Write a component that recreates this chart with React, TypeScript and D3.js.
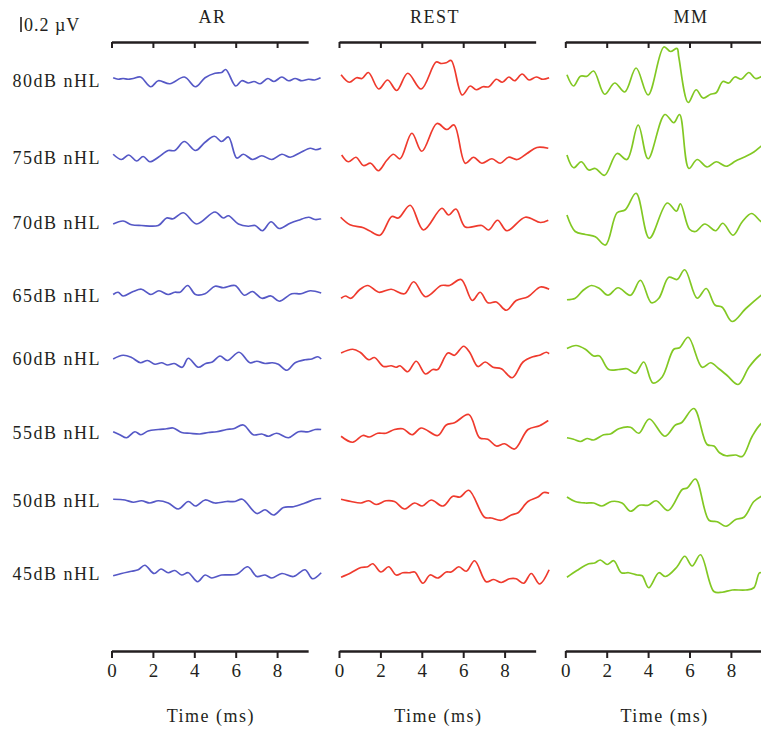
import React, { useEffect, useRef } from "react";
import * as d3 from "d3";

// stacked evoked-response traces, time in ms, amplitude in µV
const conditions = ["AR", "REST", "MM"];
const levels = ["80dB nHL", "75dB nHL", "70dB nHL", "65dB nHL", "60dB nHL", "55dB nHL", "50dB nHL", "45dB nHL"];
const levelOffsets = [0, 1.03, 1.89, 2.87, 3.71, 4.69, 5.6, 6.57]; // µV shift of each stacked trace
const timeTicks = [0, 2, 4, 6, 8];
const scaleBarValue = 0.2; // µV

type Pt = [number, number];

const arTraces: Pt[][] = [
  [[0.08, 0.03], [0.32, 0.01], [0.56, 0.02], [0.8, 0.01], [1.05, 0.02], [1.4, 0.04], [1.9, -0.09], [2.26, -0.01], [2.82, -0.05], [3.52, 0.04], [4.06, -0.09], [4.52, 0.03], [5.0, 0.09], [5.32, 0.1], [5.52, 0.14], [6.0, -0.08], [6.29, -0.01], [6.61, -0.04], [6.89, -0.02], [7.18, -0.05], [7.55, 0.02], [7.85, -0.02], [8.23, 0.04], [8.55, -0.01], [8.87, 0.02], [9.19, -0.01], [9.52, 0.01], [9.81, 0], [10.1, 0.03]],
  [[0.08, 0.04], [0.48, -0.03], [0.84, 0.03], [1.21, -0.05], [1.53, 0.01], [1.85, -0.06], [2.26, 0.0], [2.74, 0.09], [3.06, 0.09], [3.52, 0.21], [4.06, 0.09], [4.52, 0.2], [4.97, 0.28], [5.32, 0.21], [5.65, 0.27], [6.05, -0.01], [6.37, 0.04], [6.81, -0.03], [7.26, 0.02], [7.74, -0.03], [8.23, 0.04], [8.63, 0.0], [9.11, 0.06], [9.6, 0.12], [9.87, 0.1], [10.13, 0.12]],
  [[0.08, -0.03], [0.56, 0.01], [0.97, -0.04], [1.45, -0.05], [2.26, -0.05], [2.66, 0.05], [2.98, 0.04], [3.47, 0.12], [4.11, -0.03], [5.0, 0.13], [5.4, 0.05], [5.65, 0.08], [6.13, -0.03], [6.61, -0.06], [6.94, -0.05], [7.29, -0.12], [7.71, 0.0], [8.1, -0.09], [8.63, -0.02], [9.03, 0.02], [9.52, 0.06], [9.84, 0.03], [10.13, 0.04]],
  [[0.08, 0.01], [0.32, 0.04], [0.56, -0.01], [1.05, 0.05], [1.45, 0.08], [1.9, 0.01], [2.29, 0.06], [2.74, 0.01], [3.06, 0.04], [3.31, 0.04], [3.68, 0.13], [4.06, 0.01], [4.52, 0.02], [5.0, 0.12], [5.4, 0.1], [5.97, 0.13], [6.42, 0.0], [6.81, 0.05], [7.26, -0.04], [7.71, -0.01], [8.11, -0.08], [8.71, 0.02], [9.16, 0.02], [9.6, 0.06], [10.13, 0.03]],
  [[0.08, -0.01], [0.56, 0.04], [0.97, 0.01], [1.4, -0.06], [1.74, -0.03], [2.1, -0.08], [2.42, -0.06], [2.71, -0.09], [3.03, -0.07], [3.42, -0.12], [3.71, 0.0], [4.19, -0.12], [4.55, -0.07], [4.87, -0.05], [5.24, 0.03], [5.6, -0.03], [6.16, 0.08], [6.69, -0.06], [7.02, -0.04], [7.42, -0.07], [7.77, -0.06], [8.06, -0.08], [8.47, -0.16], [8.87, -0.06], [9.35, -0.02], [9.68, -0.01], [9.97, 0.02], [10.13, -0.01]],
  [[0.08, 0.0], [0.4, -0.04], [0.73, -0.08], [1.13, 0.0], [1.42, -0.04], [1.77, 0.01], [2.26, 0.03], [2.66, 0.04], [2.98, 0.05], [3.39, -0.01], [3.79, -0.02], [4.27, -0.03], [4.68, -0.01], [5.08, 0.0], [5.56, 0.03], [5.89, 0.04], [6.37, 0.09], [6.85, -0.04], [7.26, -0.03], [7.58, -0.06], [7.98, -0.02], [8.55, -0.08], [9.03, 0.0], [9.52, 0.0], [9.84, 0.03], [10.13, 0.03]],
  [[0.08, 0.01], [0.65, 0.0], [1.05, -0.03], [1.45, -0.01], [1.85, -0.04], [2.26, -0.01], [2.74, -0.04], [3.23, -0.12], [3.71, -0.02], [4.06, -0.08], [4.52, 0.0], [5.0, -0.04], [5.56, -0.02], [5.97, -0.02], [6.32, 0.01], [7.02, -0.18], [7.42, -0.13], [7.82, -0.2], [8.31, -0.1], [8.79, -0.09], [9.35, -0.04], [9.84, 0.01], [10.13, 0.02]],
  [[0.08, -0.04], [0.48, -0.01], [0.97, 0.02], [1.29, 0.04], [1.61, 0.1], [2.06, -0.01], [2.39, 0.05], [2.74, 0.0], [3.06, 0.03], [3.39, -0.03], [3.71, 0.0], [4.16, -0.12], [4.52, -0.03], [4.84, -0.07], [5.32, -0.03], [6.05, -0.02], [6.58, 0.08], [7.02, -0.05], [7.42, -0.03], [7.74, -0.07], [8.23, -0.01], [8.79, -0.05], [9.35, 0.04], [9.71, -0.08], [10.13, 0.0]],
];

const restTraces: Pt[][] = [
  [[0.1, 0.07], [0.5, -0.03], [0.85, 0.03], [1.11, 0.02], [1.42, 0.1], [1.92, -0.12], [2.35, 0.0], [2.79, -0.14], [3.32, 0.09], [3.97, -0.12], [4.69, 0.24], [4.94, 0.22], [5.18, 0.23], [5.42, 0.26], [5.95, -0.2], [6.34, -0.08], [6.63, -0.13], [6.95, -0.09], [7.24, -0.09], [7.6, 0.01], [7.89, -0.03], [8.21, 0.04], [8.48, -0.01], [8.85, 0.08], [9.18, 0.0], [9.53, 0.04], [9.85, 0.01], [10.15, 0.03]],
  [[0.13, 0.03], [0.45, -0.06], [0.82, 0.0], [1.18, -0.11], [1.53, -0.08], [1.9, -0.18], [2.31, -0.04], [2.63, 0.04], [2.95, -0.02], [3.52, 0.32], [4.0, 0.08], [4.73, 0.45], [5.21, 0.37], [5.56, 0.43], [6.1, -0.08], [6.5, 0.0], [6.9, -0.08], [7.39, -0.02], [7.79, -0.08], [8.19, 0.0], [8.6, -0.03], [9.08, 0.05], [9.56, 0.13], [10.11, 0.12]],
  [[0.08, 0.06], [0.53, -0.04], [1.18, -0.08], [1.47, -0.12], [1.98, -0.18], [2.55, 0.07], [2.87, 0.05], [3.44, 0.22], [4.08, -0.11], [4.97, 0.18], [5.29, 0.09], [5.65, 0.17], [6.1, -0.07], [6.9, -0.05], [7.23, -0.11], [7.66, 0.02], [8.11, -0.12], [9.0, 0.06], [9.73, -0.01], [10.11, 0.02]],
  [[0.1, -0.04], [0.31, -0.01], [0.58, -0.04], [0.98, 0.07], [1.39, 0.13], [1.92, 0.04], [2.52, 0.08], [3.16, 0.02], [3.61, 0.18], [4.18, -0.02], [4.94, 0.13], [5.34, 0.13], [5.9, 0.21], [6.44, -0.07], [6.82, 0.04], [7.19, -0.1], [7.6, -0.09], [8.08, -0.2], [8.56, -0.07], [9.13, -0.02], [9.73, 0.11], [10.15, 0.08]],
  [[0.1, 0.07], [0.66, 0.12], [1.02, 0.08], [1.44, -0.02], [1.71, 0.01], [2.15, -0.11], [2.52, -0.1], [2.76, -0.12], [2.95, -0.1], [3.32, -0.18], [3.73, -0.04], [4.18, -0.21], [4.53, -0.15], [4.77, -0.15], [5.26, 0.07], [5.58, 0.04], [6.02, 0.16], [6.31, 0.08], [6.71, -0.11], [7.06, -0.05], [7.44, -0.12], [7.84, -0.14], [8.37, -0.26], [8.89, -0.05], [9.37, 0.02], [9.69, 0.04], [10.02, 0.08], [10.15, 0.06]],
  [[0.1, -0.06], [0.66, -0.14], [1.15, -0.05], [1.47, -0.07], [1.87, -0.02], [2.27, -0.02], [2.68, 0.03], [3.08, 0.04], [3.53, -0.04], [3.97, 0.05], [4.77, -0.05], [5.18, 0.09], [5.58, 0.12], [6.27, 0.23], [6.79, -0.08], [7.19, -0.1], [7.6, -0.19], [8.0, -0.16], [8.48, -0.23], [9.13, 0.03], [9.69, 0.08], [10.11, 0.15]],
  [[0.1, 0.01], [0.58, -0.02], [1.06, -0.04], [1.44, -0.01], [1.79, -0.06], [2.27, -0.01], [2.68, -0.02], [3.16, -0.12], [3.65, -0.04], [4.02, -0.08], [4.45, 0.0], [5.02, -0.08], [5.5, 0.05], [5.85, 0.04], [6.27, 0.13], [7.03, -0.23], [7.35, -0.24], [7.84, -0.27], [8.32, -0.2], [8.65, -0.17], [9.13, -0.02], [9.61, 0.04], [9.89, 0.1], [10.15, 0.09]],
  [[0.1, -0.06], [0.58, 0.0], [1.06, 0.07], [1.39, 0.08], [1.63, 0.12], [2.03, 0.01], [2.4, 0.08], [2.76, -0.03], [3.08, 0.0], [3.4, 0.0], [3.66, 0.01], [4.05, -0.14], [4.4, -0.03], [4.77, -0.07], [5.18, 0.01], [5.42, 0.01], [5.79, 0.08], [6.15, 0.02], [6.55, 0.16], [7.11, -0.12], [7.47, -0.09], [7.84, -0.13], [8.24, -0.08], [8.56, -0.08], [8.92, -0.14], [9.29, -0.01], [9.69, -0.15], [10.15, 0.04]],
];

const mmTraces: Pt[][] = [
  [[0.08, 0.07], [0.4, -0.08], [0.73, 0.05], [1.05, 0.05], [1.37, 0.12], [1.9, -0.19], [2.39, -0.04], [2.87, -0.16], [3.42, 0.16], [4.0, -0.2], [4.76, 0.44], [5.08, 0.38], [5.4, 0.42], [5.48, 0.31], [5.94, -0.3], [6.32, -0.13], [6.65, -0.24], [7.02, -0.19], [7.29, -0.17], [7.61, -0.02], [7.9, -0.04], [8.19, 0.04], [8.5, 0.01], [8.87, 0.1], [9.19, 0.02], [9.52, 0.05], [10.0, 0.07]],
  [[0.08, 0.03], [0.4, -0.14], [0.77, -0.06], [1.13, -0.17], [1.45, -0.15], [1.9, -0.24], [2.5, 0.05], [2.98, -0.03], [3.52, 0.43], [4.0, -0.02], [4.81, 0.57], [5.24, 0.46], [5.52, 0.57], [5.97, -0.15], [6.37, -0.03], [6.85, -0.13], [7.29, -0.06], [7.77, -0.12], [8.23, -0.05], [8.63, 0.0], [9.11, 0.07], [9.52, 0.16], [10.0, 0.23]],
  [[0.08, 0.09], [0.48, -0.13], [0.97, -0.17], [1.45, -0.2], [1.94, -0.31], [2.5, 0.12], [2.9, 0.16], [3.42, 0.38], [4.06, -0.22], [4.92, 0.25], [5.37, 0.14], [5.56, 0.24], [6.0, -0.1], [6.29, -0.13], [6.74, -0.03], [7.26, -0.12], [7.61, -0.02], [8.1, -0.18], [8.55, 0.0], [9.0, 0.11], [9.47, 0.0], [10.0, -0.06]],
  [[0.08, -0.06], [0.48, -0.04], [0.84, 0.06], [1.26, 0.13], [1.65, 0.09], [2.06, 0.0], [2.55, 0.1], [3.15, 0.0], [3.63, 0.2], [4.16, -0.1], [4.52, -0.04], [5.0, 0.24], [5.4, 0.21], [5.77, 0.34], [6.37, -0.04], [6.81, 0.09], [7.23, -0.13], [7.58, -0.16], [8.06, -0.35], [8.71, -0.18], [9.47, 0.0], [10.0, 0.11]],
  [[0.08, 0.13], [0.52, 0.17], [0.97, 0.12], [1.37, 0.03], [1.65, 0.03], [2.1, -0.15], [2.58, -0.15], [2.98, -0.14], [3.39, -0.2], [3.79, -0.05], [4.23, -0.33], [4.68, -0.25], [5.24, 0.12], [5.52, 0.14], [5.94, 0.28], [6.61, -0.12], [7.02, -0.06], [7.42, -0.14], [7.82, -0.23], [8.35, -0.35], [8.87, -0.12], [9.35, 0.03], [10.0, 0.15]],
  [[0.08, -0.08], [0.4, -0.1], [0.73, -0.13], [1.05, -0.09], [1.37, -0.11], [1.85, -0.04], [2.18, -0.03], [2.58, 0.04], [3.15, 0.06], [3.55, -0.02], [4.06, 0.17], [4.81, -0.06], [5.32, 0.09], [5.61, 0.12], [6.21, 0.31], [6.85, -0.17], [7.18, -0.19], [7.45, -0.28], [7.77, -0.32], [8.23, -0.31], [8.55, -0.33], [9.03, -0.06], [9.47, 0.11], [10.0, 0.18]],
  [[0.08, 0.04], [0.48, -0.02], [0.97, -0.04], [1.37, -0.04], [1.77, -0.08], [2.23, -0.02], [2.74, -0.04], [3.15, -0.15], [3.58, -0.07], [4.0, -0.07], [4.39, -0.01], [4.97, -0.14], [5.65, 0.14], [5.89, 0.16], [6.29, 0.28], [6.94, -0.27], [7.34, -0.29], [7.77, -0.35], [8.23, -0.26], [8.63, -0.23], [9.11, -0.02], [9.47, 0.05], [10.0, 0.11]],
  [[0.08, -0.06], [0.56, 0.03], [1.13, 0.12], [1.42, 0.13], [1.69, 0.17], [2.02, 0.11], [2.34, 0.16], [2.71, 0.0], [3.06, 0.0], [3.47, -0.03], [3.71, -0.04], [4.03, -0.2], [4.52, 0.0], [4.84, -0.05], [5.4, 0.08], [5.77, 0.22], [6.13, 0.09], [6.53, 0.24], [7.18, -0.25], [7.58, -0.26], [8.06, -0.23], [8.71, -0.23], [9.11, -0.2], [9.39, 0.0], [9.68, -0.04]],
];

const allTraces = [arTraces, restTraces, mmTraces];

const W = 761;
const H = 731;
const panelLeft = [111.5, 339, 565.3];
const titleCenter = [212.5, 435, 691];
const pxPerMs = 20.7;
const pxPerUV = 75;
const lineColors = ["#5558c6", "#ef3a2d", "#82c823"];
const font = "'Liberation Serif', 'Times New Roman', serif";
const ink = "#231f20";

export default function App() {
  const ref = useRef<SVGSVGElement>(null);

  useEffect(() => {
    const svg = d3.select(ref.current);
    svg.selectAll("*").remove();

    const y = d3.scaleLinear().domain([0, -7]).range([80, 80 + 7 * pxPerUV]);
    const topAxisY = 42;
    const bottomAxisY = 651;

    // scale bar
    const barTop = 17;
    svg
      .append("line")
      .attr("x1", 21)
      .attr("x2", 21)
      .attr("y1", barTop)
      .attr("y2", barTop + (y(0) - y(scaleBarValue)))
      .attr("stroke", ink)
      .attr("stroke-width", 1.6);
    svg
      .append("text")
      .attr("x", 24)
      .attr("y", 25)
      .attr("dominant-baseline", "central")
      .style("font-family", font)
      .style("font-size", "18px")
      .style("letter-spacing", "1px")
      .attr("fill", ink)
      .text(`${scaleBarValue} µV`);

    // level labels
    svg
      .selectAll("text.level")
      .data(levels)
      .join("text")
      .attr("class", "level")
      .attr("x", 101)
      .attr("y", (d, i) => y(-levelOffsets[i]) + 1)
      .attr("text-anchor", "end")
      .attr("dominant-baseline", "central")
      .style("font-family", font)
      .style("font-size", "18px")
      .style("letter-spacing", "1.5px")
      .attr("fill", ink)
      .text((d) => d);

    conditions.forEach((cond, ci) => {
      const x = d3
        .scaleLinear()
        .domain([0, 9.5])
        .range([panelLeft[ci], panelLeft[ci] + 9.5 * pxPerMs]);

      svg
        .append("text")
        .attr("x", titleCenter[ci])
        .attr("y", 17)
        .attr("text-anchor", "middle")
        .attr("dominant-baseline", "central")
        .style("font-family", font)
        .style("font-size", "18px")
        .style("letter-spacing", "1.5px")
        .attr("fill", ink)
        .text(cond);

      // top axis, ticks only
      const top = svg
        .append("g")
        .attr("transform", `translate(0,${topAxisY})`)
        .call(d3.axisBottom(x).tickValues(timeTicks).tickSize(6).tickSizeOuter(0).tickFormat(() => ""));
      top.select(".domain").attr("stroke", ink).attr("stroke-width", 2.4);
      top.selectAll(".tick line").attr("stroke", ink).attr("stroke-width", 2);

      // bottom axis with labels
      const bottom = svg
        .append("g")
        .attr("transform", `translate(0,${bottomAxisY})`)
        .call(d3.axisBottom(x).tickValues(timeTicks).tickSize(7).tickSizeOuter(0).tickPadding(6));
      bottom.select(".domain").attr("stroke", ink).attr("stroke-width", 2.4);
      bottom.selectAll(".tick line").attr("stroke", ink).attr("stroke-width", 2);
      bottom
        .selectAll(".tick text")
        .attr("fill", ink)
        .style("font-family", font)
        .style("font-size", "19px");

      svg
        .append("text")
        .attr("x", x(4.8))
        .attr("y", 716)
        .attr("text-anchor", "middle")
        .attr("dominant-baseline", "central")
        .style("font-family", font)
        .style("font-size", "18px")
        .style("letter-spacing", "1.5px")
        .attr("fill", ink)
        .text("Time (ms)");

      const line = d3
        .line<Pt>()
        .x((d) => x(d[0]))
        .curve(d3.curveCatmullRom.alpha(0.5));

      allTraces[ci].forEach((trace, li) => {
        line.y((d) => y(d[1] - levelOffsets[li]));
        svg
          .append("path")
          .datum(trace)
          .attr("d", line)
          .attr("fill", "none")
          .attr("stroke", lineColors[ci])
          .attr("stroke-width", 1.7)
          .attr("stroke-linejoin", "round");
      });
    });
  }, []);

  return (
    <div style={{ position: "absolute", left: 0, top: 0, width: W, height: H, background: "#fff" }}>
      <svg ref={ref} width={W} height={H} style={{ display: "block" }} />
    </div>
  );
}
